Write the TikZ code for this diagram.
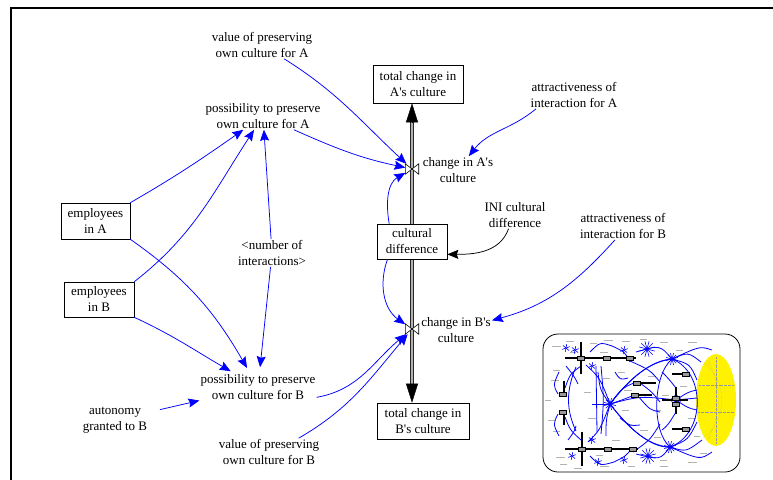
\documentclass[tikz,border=0pt]{standalone}
\usepackage{fontspec}
\setmainfont{Liberation Serif}
\usetikzlibrary{arrows.meta}
\begin{document}
\begin{tikzpicture}[x=1pt, y=-1pt,
  every node/.style={font=\fontsize{13}{16}\selectfont, align=center},
  lbl/.style={inner sep=1pt},
  stockbox/.style={draw, line width=0.6pt, fill=white, inner sep=0pt},
  link/.style={draw=blue, line width=0.75pt, -{Stealth[length=11pt, width=9pt, inset=1.5pt]}},
  blacklink/.style={draw=black, line width=0.75pt, -{Stealth[length=11pt, width=9pt, inset=1.5pt]}},
  pipe/.style={draw=black!85, line width=0.7pt, double=black!30, double distance=2pt},
  pipetip/.style={line width=0.4pt, -{Triangle[length=19pt, width=12pt]}},
  valve/.style={minimum width=13pt, minimum height=10pt, inner sep=0pt},
  valveline/.style={draw, fill=white, line width=0.6pt, line join=miter},
  thumb/.style={draw=blue, line width=0.8pt},
  spoke/.style={draw=blue, line width=0.6pt},
  tflow/.style={draw=black, line width=1.1pt},
  tbox/.style={draw=black, fill=black!40, line width=0.3pt},
  tlabel/.style={draw=black!30, line width=0.8pt},
]
\useasboundingbox (0,0) rectangle (773,479);

% outer frame
\draw[line width=2pt] (11,481) -- (11,8) -- (775,8);

% ---------- text variables ----------
\node[lbl] (valA) at (262,45) {value of preserving\\own culture for A};
\node[lbl] (posA) at (263,116) {possibility to preserve\\own culture for A};
\node[lbl] (num)  at (272,253) {<number of\\interactions>};
\node[lbl] (posB) at (258,387) {possibility to preserve\\own culture for B};
\node[lbl] (auto) at (115,420) {autonomy\\granted to B};
\node[lbl] (valB) at (269,452) {value of preserving\\own culture for B};
\node[lbl] (chA)  at (458,170) {change in A\textquotesingle s\\culture};
\node[lbl] (chB)  at (456,330) {change in B\textquotesingle s\\culture};
\node[lbl] (ini)  at (515,215) {INI cultural\\difference};
\node[lbl] (attA) at (574,95)  {attractiveness of\\interaction for A};
\node[lbl] (attB) at (623,226) {attractiveness of\\interaction for B};

% ---------- stocks and flow pipe ----------
\node[stockbox, minimum width=90pt, minimum height=38pt] (totA) at (418,84) {total change in\\A\textquotesingle s culture};
\node[stockbox, minimum width=92pt, minimum height=36pt] (totB) at (423,421) {total change in\\B\textquotesingle s culture};
\coordinate (cdpos) at (412,241.5);
\coordinate (pA) at (cdpos |- totA.south);
\coordinate (pB) at (cdpos |- totB.north);
\draw[pipe] ([yshift=-10pt]pA) -- ([yshift=10pt]pB);
\draw[pipetip] ([yshift=-19pt]pA) -- (pA);
\draw[pipetip] ([yshift=19pt]pB) -- (pB);

\node[stockbox, minimum width=70pt, minimum height=35pt] (cd) at (cdpos) {cultural\\difference};
\node[stockbox, minimum width=69pt, minimum height=36pt] (empA) at (95.5,221) {employees\\in A};
\node[stockbox, minimum width=70pt, minimum height=35pt] (empB) at (99,299.5) {employees\\in B};

% valves
\node[valve] (vA) at (412,169) {};
\node[valve] (vB) at (412,329) {};
\foreach \v in {vA,vB}
  \draw[valveline] (\v.north west) -- (\v.south west) -- (\v.north east) -- (\v.south east) -- cycle;

% ---------- causal links ----------
\draw[link] (valA) to[out=-32, in=137] (vA);
\draw[link] (posA) to[out=-24, in=168] (vA);
\draw[link] (attA.200) to[out=220, in=52] (chA);
\draw[link] (cd.142) to[out=100, in=210] (vA);
\draw[link] (empA.north east) to[out=30, in=215] (posA);
\draw[link] (empB.north east) to[out=38, in=237] (posA);
\draw[link] (num) -- (posA);
\draw[link, shorten >=6pt] (num) -- (posB);
\draw[link, shorten >=6pt] (empA.south east) to[out=-35, in=120] (posB);
\draw[link, shorten >=4pt] (empB.south east) to[out=-25, in=150] (posB);
\draw[link, shorten <=12pt] (auto) -- (posB);
\draw[link] (posB.-10) to[out=10, in=220] (vB);
\draw[link] (valB.25) to[out=30, in=230] (vB);
\draw[link] (cd.216) to[out=250, in=145] (vB);
\draw[link] (attB.240) to[out=228, in=15] (chB);
\draw[blacklink] (ini.245) to[out=250, in=0] (cd.-20);

% ---------- overview thumbnail ----------
\draw[line width=0.8pt, rounded corners=15pt] (543,334) rectangle (740,472);
\fill[yellow] (716,400) ellipse [x radius=20pt, y radius=46pt];
\begin{scope}[draw=black!40, line width=0.3pt, densely dotted]
  \draw (716,357) -- (716,443);
  \draw (703,362) .. controls (728,380) and (728,420) .. (703,438);
  \draw (699,385) -- (733,385);
  \draw (698,412) -- (734,412);
  \draw (708,360) .. controls (722,390) and (722,410) .. (708,440);
\end{scope}

% small variable names
\foreach \x/\y/\w in {552/346/9, 566/341/8, 590/343/7, 604/340/9, 622/341/8, 640/339/7,
  660/342/8, 688/342/9, 553/370/7, 551/380/8, 548/420/8, 553/431/7, 556/457/9, 560/464/7,
  574/468/8, 600/466/9, 628/466/7, 660/466/8, 688/462/9, 700/453/7, 618/372/7, 624/390/8,
  584/392/7, 588/418/8, 628/425/8, 654/410/7, 648/376/8, 680/386/7, 688/418/8, 654/437/7,
  612/440/8, 545/400/6, 622/410/7, 640/430/8, 596/455/7, 676/350/7, 694/436/6, 570/352/6,
  603/378/7, 662/395/7, 600/352/8, 660/460/7}
  \draw[tlabel] (\x,\y) -- ++(\w,0);

% network of links
\draw[thumb] (610,404) .. controls (628,380) and (648,362) .. (672,359);
\draw[thumb] (610,404) .. controls (635,372) and (655,360) .. (672,359);
\draw[thumb] (610,404) .. controls (628,428) and (648,446) .. (670,447);
\draw[thumb] (610,404) .. controls (635,436) and (655,448) .. (670,447);
\draw[thumb] (610,404) .. controls (640,396) .. (676,400);
\draw[thumb] (610,404) .. controls (622,388) .. (634,383);
\draw[thumb] (610,404) .. controls (622,400) .. (632,396);
\draw[thumb] (610,404) .. controls (600,390) .. (598,372);
\draw[thumb] (610,404) .. controls (606,420) .. (606,436);
\draw[thumb] (610,404) -- (592,404);
\draw[thumb] (672,359) .. controls (706,372) and (706,434) .. (670,447);
\draw[thumb] (672,359) .. controls (652,376) and (652,432) .. (670,447);
\draw[thumb] (672,359) .. controls (688,352) .. (701,362);
\draw[thumb] (672,359) .. controls (690,364) .. (697,380);
\draw[thumb] (672,359) .. controls (660,345) .. (636,352);
\draw[thumb] (676,400) -- (697,398);
\draw[thumb] (676,400) .. controls (688,392) .. (697,390);
\draw[thumb] (676,400) .. controls (688,408) .. (697,410);
\draw[thumb] (670,447) .. controls (686,452) .. (702,440);
\draw[thumb] (670,447) .. controls (688,440) .. (697,422);
\draw[thumb] (670,447) .. controls (660,460) .. (636,454);
\draw[thumb] (670,447) .. controls (700,460) .. (712,452);
\draw[thumb] (672,359) .. controls (700,346) .. (712,350);
\draw[thumb] (581,366) .. controls (570,374) .. (565,388);
\draw[thumb] (565,417) .. controls (570,430) .. (581,440);
\draw[thumb] (576,367) .. controls (566,390) and (566,410) .. (576,431);
\draw[thumb] (559,372) .. controls (553,385) .. (558,394);
\draw[thumb] (558,414) .. controls (553,424) .. (559,436);
\draw[thumb] (596,366) -- (597,432);
\draw[thumb] (601,366) .. controls (604,400) .. (601,434);
\draw[thumb] (586,365) .. controls (600,378) .. (610,404);
\draw[thumb] (588,442) .. controls (600,430) .. (610,404);
\draw[thumb] (630,361) .. controls (650,370) .. (660,382);
\draw[thumb] (633,452) .. controls (650,440) .. (660,424);
\draw[thumb] (640,383) .. controls (652,392) .. (660,402);
\draw[thumb] (638,396) .. controls (650,410) .. (660,412);
\draw[thumb] (620,418) .. controls (630,426) .. (640,425);
\draw[thumb] (615,372) .. controls (620,380) .. (628,378);
\draw[thumb] (676,412) .. controls (668,425) .. (662,430);
\draw[thumb] (676,388) .. controls (668,378) .. (662,372);
\draw[thumb] (590,352) .. controls (600,342) .. (612,346);
\draw[thumb] (612,346) .. controls (625,352) .. (630,362);
\draw[thumb] (590,456) .. controls (600,466) .. (614,462);
\draw[thumb] (614,462) .. controls (626,456) .. (632,448);
\draw[thumb] (566,366) .. controls (574,376) .. (578,384);
\draw[thumb] (568,440) .. controls (574,432) .. (576,426);

% star-shaped clusters of short links
\foreach \cx/\cy/\r in {647/349/8, 648/456/8, 610/404/6, 672/359/6, 670/447/6, 676/400/5}
  \foreach \a in {15,45,...,345}
    \draw[spoke] (\cx,\cy) -- ++(\a:\r pt);
\foreach \cx/\cy in {575/350, 592/366, 572/456, 592/440, 566/348, 598/462, 624/350, 624/460}
  \foreach \a in {20,80,...,320}
    \draw[spoke] (\cx,\cy) -- ++(\a:4pt);

% flows, valves and stocks
\draw[tflow] (565,358) -- (636,358);
\draw[tflow] (581,342) -- (581,374);
\draw[tflow] (565,449) -- (638,449);
\draw[tflow] (582,432) -- (582,466);
\draw[tflow] (564,381) -- (564,392);
\draw[tflow] (564,414) -- (564,425);
\draw[tflow] (637,383) -- (656,383);
\draw[tflow] (635,395) -- (652,395);
\draw[tflow] (672,374) -- (690,374);
\draw[tflow] (676,387) -- (676,414);
\draw[tflow] (662,400) -- (688,400);
\draw[tflow] (672,429) -- (690,429);
\foreach \x/\y in {581/358, 607/358, 630/358, 582/449, 608/449, 633/449, 563/394, 563/412,
  637/383, 635/395, 686/374, 676/398, 676/404, 686/429}
  \draw[tbox] (\x-3.5,\y-2.2) rectangle (\x+3.5,\y+2.2);
\end{tikzpicture}
\end{document}
